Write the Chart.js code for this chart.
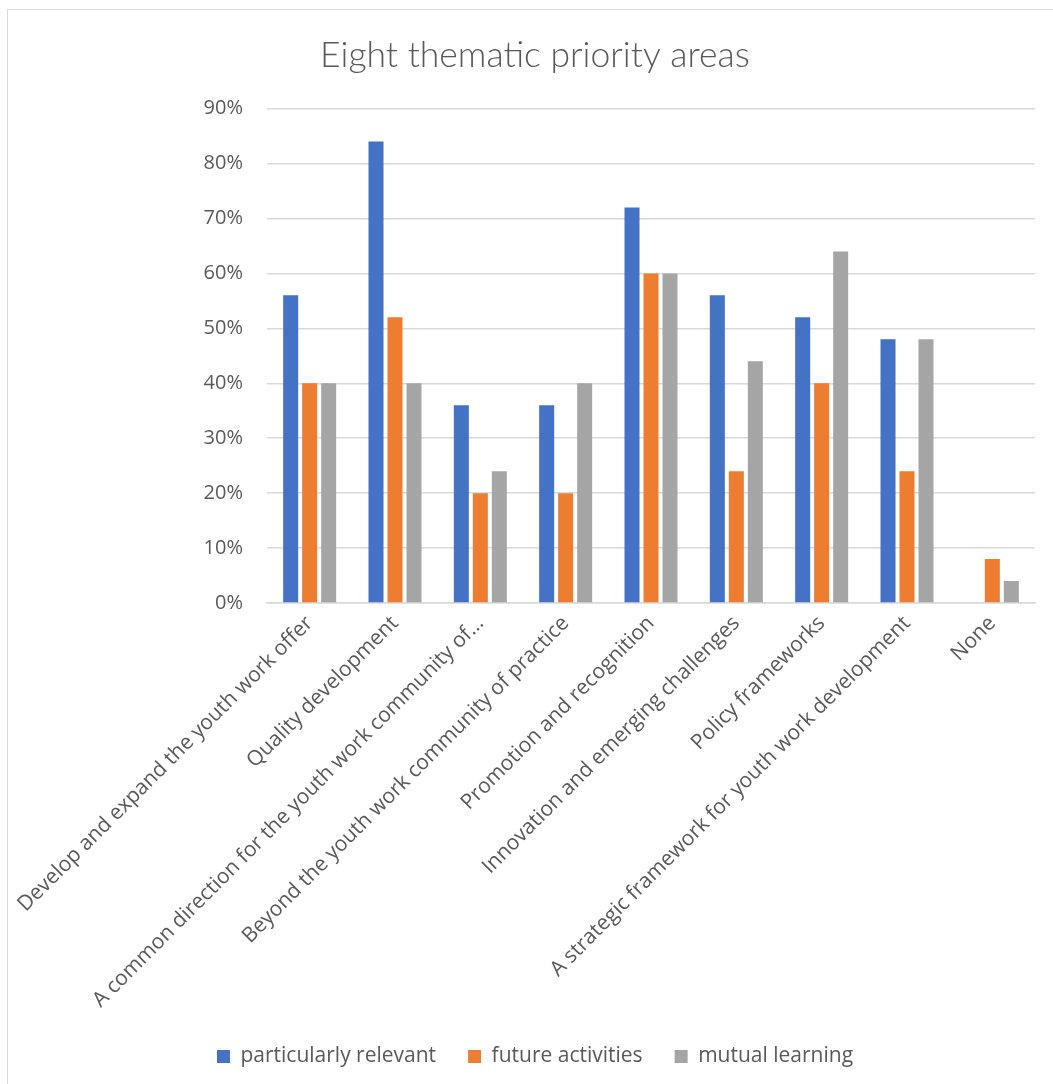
<!DOCTYPE html>
<html>
<head>
<meta charset="utf-8">
<title>Eight thematic priority areas</title>
<script src="https://cdn.jsdelivr.net/npm/chart.js@4"></script>
<style>
  html, body { margin: 0; padding: 0; background: #fff; overflow: hidden; }
  #wrap { position: relative; width: 1053px; height: 1084px; }
  #frame { position: absolute; left: 7px; top: 9px; right: -2px; bottom: -2px;
           border: 1.5px solid #d9d9d9; }
  canvas { position: absolute; left: 0; top: 0; }
</style>
</head>
<body>
<div id="wrap">
  <div id="frame"></div>
  <canvas id="chart" width="1053" height="1084"></canvas>
</div>
<script>
const categories = [
  "Develop and expand the youth work offer",
  "Quality development",
  "A common direction for the youth work community of…",
  "Beyond the youth work community of practice",
  "Promotion and recognition",
  "Innovation and emerging challenges",
  "Policy frameworks",
  "A strategic framework for youth work development",
  "None"
];
const particularlyRelevant = [56, 84, 36, 36, 72, 56, 52, 48, 0];
const futureActivities = [40, 52, 20, 20, 60, 24, 40, 24, 8];
const mutualLearning = [40, 40, 24, 40, 60, 44, 64, 48, 4];
const seriesNames = ["particularly relevant", "future activities", "mutual learning"];
const seriesColors = ["#4472C4", "#ED7D31", "#A5A5A5"];

const textColor = "#595959";
const gridColor = "#d9d9d9";

const ctx = document.getElementById("chart").getContext("2d");
new Chart(ctx, {
  type: "bar",
  data: {
    labels: categories,
    datasets: [particularlyRelevant, futureActivities, mutualLearning].map((vals, i) => ({
      label: seriesNames[i],
      data: vals,
      backgroundColor: seriesColors[i],
      borderWidth: 0,
      categoryPercentage: 0.668,
      barPercentage: 0.79
    }))
  },
  options: {
    responsive: false,
    animation: false,
    layout: { padding: { left: 35, right: 18, top: 0, bottom: 7 } },
    plugins: {
      title: {
        display: true,
        text: "Eight thematic priority areas",
        color: textColor,
        font: { family: "Lato", size: 35.5, weight: 300 },
        padding: { top: 34, bottom: 32 }
      },
      legend: {
        position: "bottom",
        labels: {
          color: textColor,
          font: { family: "Open Sans", size: 21 },
          boxWidth: 13,
          boxHeight: 13,
          padding: 32
        }
      },
      tooltip: { enabled: false }
    },
    scales: {
      x: {
        grid: { display: false },
        border: { color: gridColor, width: 1.5 },
        ticks: {
          color: textColor,
          font: { family: "Open Sans", size: 21 },
          minRotation: 45,
          maxRotation: 45,
          autoSkip: false,
          padding: 0
        },
        // room for the long rotated category names
        afterFit: scale => { scale.height = 411; }
      },
      y: {
        min: 0,
        max: 90,
        grid: { color: gridColor, lineWidth: 1.5, drawTicks: false },
        border: { display: false },
        ticks: {
          stepSize: 10,
          color: textColor,
          font: { family: "Open Sans", size: 20 },
          padding: 24,
          callback: v => v + "%"
        },
        afterFit: scale => { scale.width = 232; }
      }
    }
  }
});
</script>
</body>
</html>
